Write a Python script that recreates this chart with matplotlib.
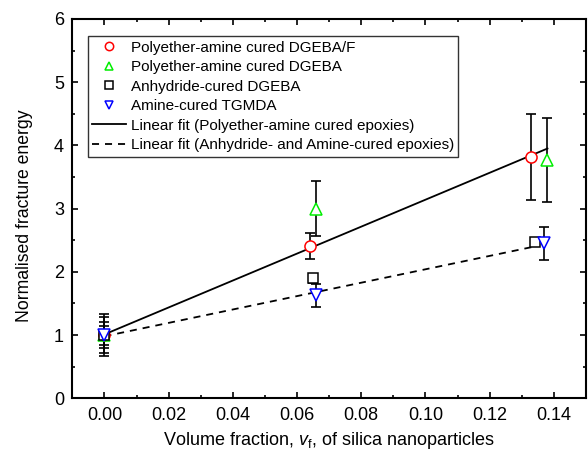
import numpy as np
import matplotlib
matplotlib.use("Agg")
import matplotlib.pyplot as plt
from matplotlib.ticker import MultipleLocator, FormatStrFormatter

plt.rcParams["font.family"] = ["Liberation Sans", "DejaVu Sans"]
plt.rcParams["mathtext.fontset"] = "custom"
plt.rcParams["mathtext.rm"] = "Liberation Sans"
plt.rcParams["mathtext.it"] = "Liberation Sans:italic"

# data
labels = ["Polyether-amine cured DGEBA/F", "Polyether-amine cured DGEBA",
          "Anhydride-cured DGEBA", "Amine-cured TGMDA"]

x_dgebaf = [0.0, 0.064, 0.133]
y_dgebaf = [1.0, 2.41, 3.81]
e_dgebaf = [0.20, 0.20, 0.68]

x_dgeba = [0.0, 0.066, 0.138]
y_dgeba = [1.0, 3.00, 3.77]
e_dgeba = [0.33, 0.44, 0.67]

x_anh = [0.0, 0.065, 0.134]
y_anh = [1.0, 1.90, 2.47]
e_anh = [0.15, 0.07, 0.05]

x_tgmda = [0.0, 0.066, 0.137]
y_tgmda = [1.0, 1.63, 2.45]
e_tgmda = [0.28, 0.18, 0.26]

fit1_x = [0.0, 0.138]
fit1_y = [1.01, 3.95]
fit2_x = [0.0, 0.134]
fit2_y = [0.98, 2.40]

series = [
    (x_dgebaf, y_dgebaf, e_dgebaf, "o", "#ff0000"),
    (x_dgeba, y_dgeba, e_dgeba, "^", "#00ee00"),
    (x_anh, y_anh, e_anh, "s", "#000000"),
    (x_tgmda, y_tgmda, e_tgmda, "v", "#0000ff"),
]

fig = plt.figure(figsize=(5.88, 4.50), dpi=100)
ax = fig.add_axes([0.123, 0.115, 0.8736, 0.843])

for (x, y, e, m, c), lab in zip(series, labels):
    ax.errorbar(x, y, yerr=e, fmt="none", ecolor="black", elinewidth=1.2,
                capsize=3.5, capthick=1.2, zorder=2)
for (x, y, e, m, c), lab in zip(series, labels):
    ms = 7 if m == "s" else 8
    ax.plot(x, y, linestyle="none", marker=m, ms=ms, mfc="white",
            mec=c, mew=1.1, label=lab, zorder=4)

ax.plot(fit1_x, fit1_y, "k-", lw=1.3, zorder=3,
        label="Linear fit (Polyether-amine cured epoxies)")
ax.plot(fit2_x, fit2_y, "k--", lw=1.3, dashes=(3.9, 3.3), zorder=3,
        label="Linear fit (Anhydride- and Amine-cured epoxies)")

ax.set_xlim(-0.01, 0.15)
ax.set_ylim(0, 6)
ax.xaxis.set_major_locator(MultipleLocator(0.02))
ax.xaxis.set_minor_locator(MultipleLocator(0.01))
ax.xaxis.set_major_formatter(FormatStrFormatter("%.2f"))
ax.yaxis.set_major_locator(MultipleLocator(1))
ax.yaxis.set_minor_locator(MultipleLocator(0.5))
ax.tick_params(which="both", direction="in", top=True, right=True,
               labelsize=13, width=1.2)
ax.tick_params(which="major", length=4.5, pad=6)
ax.tick_params(which="minor", length=2.5)
for s in ax.spines.values():
    s.set_linewidth(1.5)

# reference crops this label at the bottom edge; keep it just inside
ax.set_xlabel(r"Volume fraction, $\mathit{v}_{\mathrm{f}}$, of silica nanoparticles",
              fontsize=13)
ax.set_ylabel("Normalised fracture energy", fontsize=12.7)
ax.xaxis.set_label_coords(0.5, -0.083)
ax.yaxis.set_label_coords(-0.076, 0.48)

leg = ax.legend(loc="upper left", bbox_to_anchor=(0.03, 0.955), borderaxespad=0,
                fontsize=11, frameon=True, fancybox=False, edgecolor="black",
                handlelength=2.2, handletextpad=0.3, labelspacing=0.36,
                borderpad=0.3, numpoints=1, markerscale=0.75)
leg.get_frame().set_linewidth(1.0)

fig.savefig("out.png", dpi=100)
